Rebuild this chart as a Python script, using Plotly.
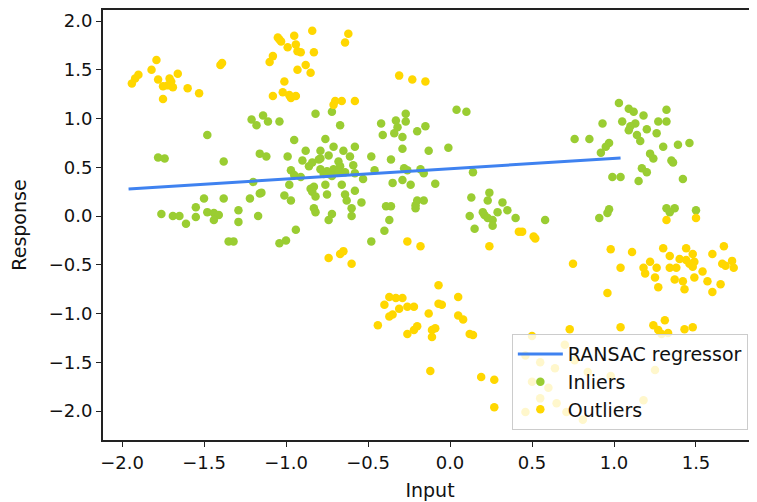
import plotly.graph_objects as go

inliers = [
    (-1.21,0.99),(-1.18,0.93),(-1.14,1.03),(-1.11,0.97),(-1.04,0.97),(-0.82,1.05),(-1.48,0.83),(-0.95,0.78),
    (-0.88,0.67),(-1.16,0.64),(-1.12,0.61),(-0.99,0.61),(-1.38,0.56),(-1.78,0.60),(-1.74,0.59),
    (-0.72,1.07),(-0.67,0.93),(-0.76,0.79),(-0.79,0.67),(-0.71,0.71),(-0.65,0.67),(-0.58,0.71),(-0.74,0.62),
    (-0.61,0.61),(-0.48,0.61),(-0.79,0.59),(-0.36,0.58),(-0.42,0.95),(-0.41,0.83),(-0.33,0.98),(-0.27,1.05),
    (-0.27,0.97),(-0.34,0.85),(-0.32,0.91),(-0.29,0.81),(-0.20,0.87),(-0.15,0.92),(-0.29,0.69),(-0.13,0.67),
    (-0.01,0.70),(0.04,1.09),(0.10,1.07),
    (1.03,1.16),(1.09,1.10),(1.12,1.07),(1.18,1.03),(1.32,1.09),(0.93,0.95),(1.05,0.97),(1.13,0.95),
    (1.10,0.92),(1.09,0.88),(1.20,0.89),(1.27,0.97),(1.32,0.97),(1.26,0.85),(1.14,0.83),(1.16,0.77),
    (0.76,0.79),(0.85,0.79),(0.97,0.75),(0.95,0.71),(0.92,0.65),(1.30,0.71),(1.39,0.73),(1.46,0.75),
    (1.22,0.64),(1.24,0.59),(1.35,0.57),
    (1.36,0.55),(1.17,0.49),(1.20,0.45),(0.99,0.40),(1.04,0.40),(1.15,0.36),(1.42,0.38),(0.97,0.07),
    (0.96,0.03),(0.91,-0.02),(1.32,0.08),(1.37,0.08),(1.34,0.04),(1.50,0.06),(0.58,-0.04),
    (-0.90,0.57),(-0.86,0.51),(-0.84,0.55),(-0.97,0.47),(-0.95,0.42),(-1.20,0.35),(-1.15,0.24),(-0.98,0.32),
    (-1.01,0.21),(-0.97,0.16),(-0.85,0.28),(-0.84,0.25),(-0.82,0.20),(-0.83,0.08),(-0.82,0.04),(-1.50,0.18),
    (-1.38,0.18),(-1.22,0.18),(-1.55,0.09),(-1.76,0.02),(-1.69,0.00),(-1.65,0.00),(-1.55,-0.01),(-1.48,0.04),
    (-1.44,0.03),(-1.41,0.01),(-1.44,-0.04),(-1.29,0.06),(-1.29,-0.06),(-1.17,0.00),(-1.61,-0.08),(-1.35,-0.26),
    (-1.32,-0.26),(-0.94,-0.14),(-1.04,-0.28),(-1.00,-0.25),
    (-0.80,0.58),(-0.68,0.56),(-0.67,0.51),(-0.59,0.52),(-0.79,0.48),(-0.75,0.46),(-0.71,0.48),(-0.68,0.45),
    (-0.74,0.43),(-0.77,0.43),(-0.46,0.47),(-0.64,0.45),(-0.58,0.44),(-0.53,0.38),(-0.28,0.49),(-0.26,0.47),
    (-0.18,0.48),(-0.91,0.40),(-0.72,0.41),(-0.76,0.32),(-0.66,0.32),(-0.35,0.34),(-0.29,0.37),(-0.24,0.32),
    (-0.83,0.30),(-1.16,0.23),(-0.75,0.22),(-0.64,0.22),(-0.63,0.16),(-0.58,0.26),(-0.54,0.14),(-0.60,0.08),
    (-0.60,0.00),(-0.72,0.02),(-0.74,-0.04),(-0.39,0.10),(-0.36,0.10),(-0.37,-0.04),(-0.21,0.11),(-0.20,0.16),
    (-0.16,0.16),(-0.40,-0.15),(-0.48,-0.26),
    (-0.09,0.33),(-0.16,0.44),(0.13,0.19),(0.24,0.24),(0.23,0.16),(0.32,0.14),(0.35,0.06),(0.29,0.04),
    (0.20,0.04),(0.21,0.01),(0.23,-0.02),(0.26,-0.04),(0.12,0.00),(0.15,-0.13),(0.26,-0.10),(0.40,-0.02),
    (0.14,0.45),(-0.21,0.08),
]

outliers = [
    (-1.94,1.36),(-1.92,1.41),(-1.90,1.45),(-1.79,1.60),(-1.82,1.50),(-1.78,1.40),(-1.75,1.33),(-1.72,1.34),
    (-1.70,1.38),(-1.71,1.41),(-1.69,1.32),(-1.66,1.46),(-1.75,1.20),(-1.60,1.31),(-1.53,1.26),(-1.40,1.55),
    (-1.39,1.57),(-1.04,1.81),(-1.05,1.83),(-1.03,1.79),(-1.08,1.64),(-1.10,1.58),(-0.95,1.85),(-0.84,1.90),
    (-0.99,1.73),(-0.94,1.76),(-0.93,1.69),(-0.91,1.68),(-0.83,1.68),(-0.88,1.55),(-0.93,1.50),(-0.85,1.47),
    (-1.01,1.38),(-1.02,1.27),(-1.08,1.23),(-0.98,1.24),(-0.97,1.21),(-0.94,1.23),
    (-0.62,1.87),(-0.64,1.78),(-0.31,1.44),(-0.23,1.40),(-0.15,1.38),(-0.70,1.18),(-0.71,1.14),(-0.66,1.18),
    (-0.58,1.18),
    (1.32,-0.04),(1.50,-0.02),(0.44,-0.16),(0.51,-0.21),(0.52,-0.23),(0.98,-0.34),(1.11,-0.37),(1.30,-0.33),
    (1.44,-0.33),(1.67,-0.31),(1.60,-0.39),(1.34,-0.41),(1.48,-0.39),(1.40,-0.44),(1.44,-0.45),(1.46,-0.49),
    (1.49,-0.47),(1.22,-0.47),(1.18,-0.53),(1.19,-0.59),(1.26,-0.53),(1.25,-0.63),(1.34,-0.53),(1.38,-0.53),
    (1.48,-0.52),(1.54,-0.57),(1.37,-0.65),(1.42,-0.67),(1.49,-0.63),(1.57,-0.67),(1.65,-0.70),(1.66,-0.49),
    (1.68,-0.51),(1.72,-0.46),(1.73,-0.53),(1.04,-0.53),(0.75,-0.49),(1.27,-0.73),(1.43,-0.75),(1.60,-0.78),
    (0.96,-0.79),
    (-0.26,-0.26),(-0.18,-0.31),(-0.65,-0.36),(-0.74,-0.43),(-0.67,-0.39),(-0.60,-0.49),(0.24,-0.31),(0.42,-0.16),
    (-0.07,-0.71),(-0.37,-0.83),(-0.33,-0.84),(-0.29,-0.84),(0.05,-0.83),
    (-0.40,-0.91),(-0.31,-0.95),(-0.26,-0.93),(-0.22,-0.93),(-0.37,-1.03),(-0.35,-1.01),(-0.44,-1.12),(-0.07,-0.90),
    (-0.05,-0.91),(-0.13,-1.00),(0.05,-1.02),(0.08,-1.06),(-0.20,-1.13),(-0.22,-1.17),(-0.26,-1.21),(-0.11,-1.17),
    (-0.09,-1.15),(-0.11,-1.24),(0.12,-1.21),(0.14,-1.22),(-0.12,-1.59),(0.19,-1.65),(0.27,-1.68),(0.27,-1.96),
    (0.73,-1.16),(1.04,-1.14),(1.24,-1.12),(1.27,-1.17),(1.31,-1.07),(1.33,-1.20),(1.29,-1.21),(1.43,-1.16),
    (1.48,-1.14),(0.50,-1.23),
    (0.46,-1.43),(0.55,-1.50),(0.64,-1.56),(0.50,-1.70),(0.60,-1.76),(0.55,-1.87),(0.65,-1.92),(0.71,-2.01),
    (0.76,-1.48),(0.84,-1.60),(0.98,-1.64),(1.25,-1.58),(1.18,-1.89),(0.81,-2.09),(0.70,-1.32),(0.46,-2.01),
]

inlier_x = [p[0] for p in inliers]
inlier_y = [p[1] for p in inliers]
outlier_x = [p[0] for p in outliers]
outlier_y = [p[1] for p in outliers]

line_x = [-1.96, -0.96, 0.04, 1.04]
line_y = [0.277, 0.383, 0.489, 0.595]

x_ticks = [-2.0, -1.5, -1.0, -0.5, 0.0, 0.5, 1.0, 1.5]
x_ticklabels = ["−2.0", "−1.5", "−1.0", "−0.5", "0.0", "0.5", "1.0", "1.5"]
y_ticks = [-2.0, -1.5, -1.0, -0.5, 0.0, 0.5, 1.0, 1.5, 2.0]
y_ticklabels = ["−2.0", "−1.5", "−1.0", "−0.5", "0.0", "0.5", "1.0", "1.5", "2.0"]

FONT = "DejaVu Sans"

fig = go.Figure()
fig.add_trace(go.Scatter(x=inlier_x, y=inlier_y, mode="markers", name="Inliers", legendrank=2,
                         marker=dict(color="#9acd32", size=8.5, line=dict(width=0))))
fig.add_trace(go.Scatter(x=outlier_x, y=outlier_y, mode="markers", name="Outliers", legendrank=3,
                         marker=dict(color="#ffd700", size=8.5, line=dict(width=0))))
fig.add_trace(go.Scatter(x=line_x, y=line_y, mode="lines", name="RANSAC regressor", legendrank=1,
                         line=dict(color="#3f82f0", width=3)))

fig.update_layout(
    width=749, height=494,
    margin=dict(l=95, r=0, t=2, b=62),
    plot_bgcolor="white", paper_bgcolor="white",
    font=dict(family=FONT, size=18, color="#111"),
    showlegend=True,
    legend=dict(x=0.986, y=0.023, xanchor="right", yanchor="bottom",
                bgcolor="rgba(255,255,255,0.8)", bordercolor="#cccccc", borderwidth=1,
                traceorder="normal", font=dict(size=19, family=FONT), itemwidth=45),
    xaxis=dict(range=[-2.116, 1.872], tickvals=x_ticks, ticktext=x_ticklabels,
               showgrid=False, zeroline=False, showline=True, linecolor="#222", linewidth=1.8,
               mirror=True, ticks="outside", ticklen=5, tickcolor="#222", automargin=False,
               title=dict(text="Input", standoff=12, font=dict(size=19))),
    yaxis=dict(range=[-2.297, 2.113], tickvals=y_ticks, ticktext=y_ticklabels,
               showgrid=False, zeroline=False, showline=True, linecolor="#222", linewidth=1.8,
               ticks="outside", ticklen=5, tickcolor="#222", automargin=False,
               title=dict(text="Response", standoff=22, font=dict(size=19))),
)

fig.write_html("out.html")
